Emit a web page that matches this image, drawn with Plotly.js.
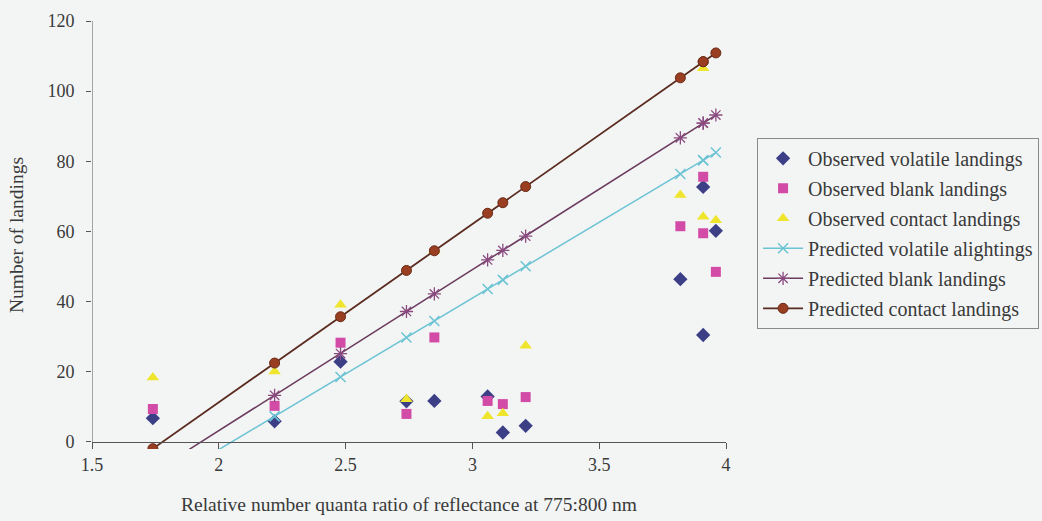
<!DOCTYPE html>
<html>
<head>
<meta charset="utf-8">
<script src="https://cdn.plot.ly/plotly-3.0.1.min.js"></script>
<style>html,body{margin:0;padding:0;background:#f3f5f5;}#chart{width:1042px;height:521px;}</style>
</head>
<body>
<div id="chart"></div>
<script>
// Relative number quanta ratio of reflectance (x)
const ratio = [1.74, 2.22, 2.48, 2.74, 2.85, 3.06, 3.12, 3.21, 3.82, 3.91, 3.91, 3.96];

// Observed
const obsVolatile = [6.8, 5.9, 22.9, 11.6, 11.7, 13.0, 2.7, 4.6, 46.4, 72.7, 30.5, 60.2];
const obsBlank    = [9.4, 10.3, 28.3, 8.0, 29.8, 11.7, 10.8, 12.8, 61.5, 75.6, 59.5, 48.5];
const obsContact  = [18.4, 20.1, 39.1, 12.2, 54.5, 7.3, 8.2, 27.4, 70.4, 106.5, 64.2, 63.2];

// Predicted
const predVolatile = [-13.4, 7.3, 18.5, 29.8, 34.5, 43.6, 46.2, 50.1, 76.4, 80.3, 80.3, 82.5];
const predBlank    = [-8.7, 13.3, 25.2, 37.2, 42.2, 51.9, 54.6, 58.7, 86.7, 90.9, 90.9, 93.2];
const predContact  = [-1.9, 22.5, 35.7, 48.9, 54.5, 65.2, 68.2, 72.8, 103.8, 108.4, 108.4, 110.9];

const names = [
  "Observed volatile landings",
  "Observed blank landings",
  "Observed contact landings",
  "Predicted volatile alightings",
  "Predicted blank landings",
  "Predicted contact landings"
];
const xTicks = [1.5, 2, 2.5, 3, 3.5, 4];
const xTickText = ["1.5", "2", "2.5", "3", "3.5", "4"];
const yTicks = [0, 20, 40, 60, 80, 100, 120];

const FONT = "Liberation Serif";
const TXT = "#3a3a3a";

const traces = [
  {x: ratio, y: obsVolatile, name: names[0], mode: "markers", legendgroup: "a",
   marker: {symbol: "diamond", size: 11, color: "#3c3f86"}},
  {x: ratio, y: obsBlank, name: names[1], mode: "markers", legendgroup: "b",
   marker: {symbol: "square", size: 10, color: "#d24ba6"}},
  {x: ratio, y: obsContact, name: names[2], mode: "markers", legendgroup: "c",
   marker: {symbol: "triangle-up", size: 11, color: "#efe52c"}},
  {x: ratio, y: predVolatile, name: names[3], mode: "lines+markers", legendgroup: "d",
   line: {color: "#6cc3d3", width: 1.5},
   marker: {symbol: "x-thin-open", size: 10, color: "#6cc3d3", line: {color: "#6cc3d3", width: 1.5}}},
  {x: ratio, y: predBlank, name: names[4], mode: "lines+markers", legendgroup: "e",
   line: {color: "#6b3a5e", width: 1.5},
   marker: {symbol: "asterisk-open", size: 11, color: "#8a4a80", line: {color: "#8a4a80", width: 1.3}}},
  {x: ratio, y: predContact, name: names[5], mode: "lines+markers", legendgroup: "f",
   line: {color: "#5a2a1e", width: 1.8},
   marker: {symbol: "circle", size: 10, color: "#9a3e22", line: {color: "#6a2a18", width: 1}}}
];

const yMin = -2, yMax = 120;
const xPos = (0 - yMin) / (yMax - yMin);

const layout = {
  width: 1042, height: 521,
  paper_bgcolor: "#f3f5f5", plot_bgcolor: "#f3f5f5",
  margin: {l: 92, r: 316, t: 21, b: 72, autoexpand: false},
  font: {family: FONT, color: TXT, size: 18},
  showlegend: true,
  xaxis: {
    range: [1.5, 4], anchor: "free", position: xPos,
    tickvals: xTicks, ticktext: xTickText,
    showgrid: false, zeroline: false,
    showline: true, linecolor: "#555", linewidth: 1,
    ticks: "outside", ticklen: 6, tickcolor: "#555",
    tickfont: {family: FONT, size: 18, color: TXT},
    title: {text: "Relative number quanta ratio of reflectance at 775:800 nm",
            font: {family: FONT, size: 19.5, color: TXT}, standoff: 23}
  },
  xaxis2: {
    range: [1.5, 4], overlaying: "x", anchor: "free", position: xPos,
    tickvals: xTicks, showticklabels: false,
    showgrid: false, zeroline: false, showline: false,
    ticks: "inside", ticklen: 6, tickcolor: "#555"
  },
  yaxis: {
    range: [yMin, yMax],
    tickvals: yTicks,
    showgrid: false, zeroline: false, showline: false,
    ticks: "outside", ticklen: 5, tickcolor: "#555",
    ticklabelstandoff: 8,
    tickfont: {family: FONT, size: 18, color: TXT},
    title: {text: "Number of landings", font: {family: FONT, size: 19.5, color: TXT}, standoff: 18}
  },
  yaxis2: {
    range: [yMin, yMax], overlaying: "y", anchor: "x",
    tickvals: yTicks, showticklabels: false,
    showgrid: false, zeroline: false, showline: false,
    ticks: "inside", ticklen: 5, tickcolor: "#555"
  },
  shapes: [
    {type: "line", xref: "x", yref: "y", x0: 1.5, x1: 1.5, y0: 0, y1: 120,
     line: {color: "#555", width: 1}}
  ],
  legend: {
    x: 1.049, xanchor: "left", y: 0.727, yanchor: "top",
    bordercolor: "#8a8a8a", borderwidth: 1, bgcolor: "rgba(0,0,0,0)",
    font: {family: FONT, size: 20, color: TXT},
    traceorder: "grouped", tracegroupgap: 1, itemwidth: 40
  }
};

Plotly.newPlot("chart", traces, layout, {displayModeBar: false, staticPlot: true});
</script>
</body>
</html>
